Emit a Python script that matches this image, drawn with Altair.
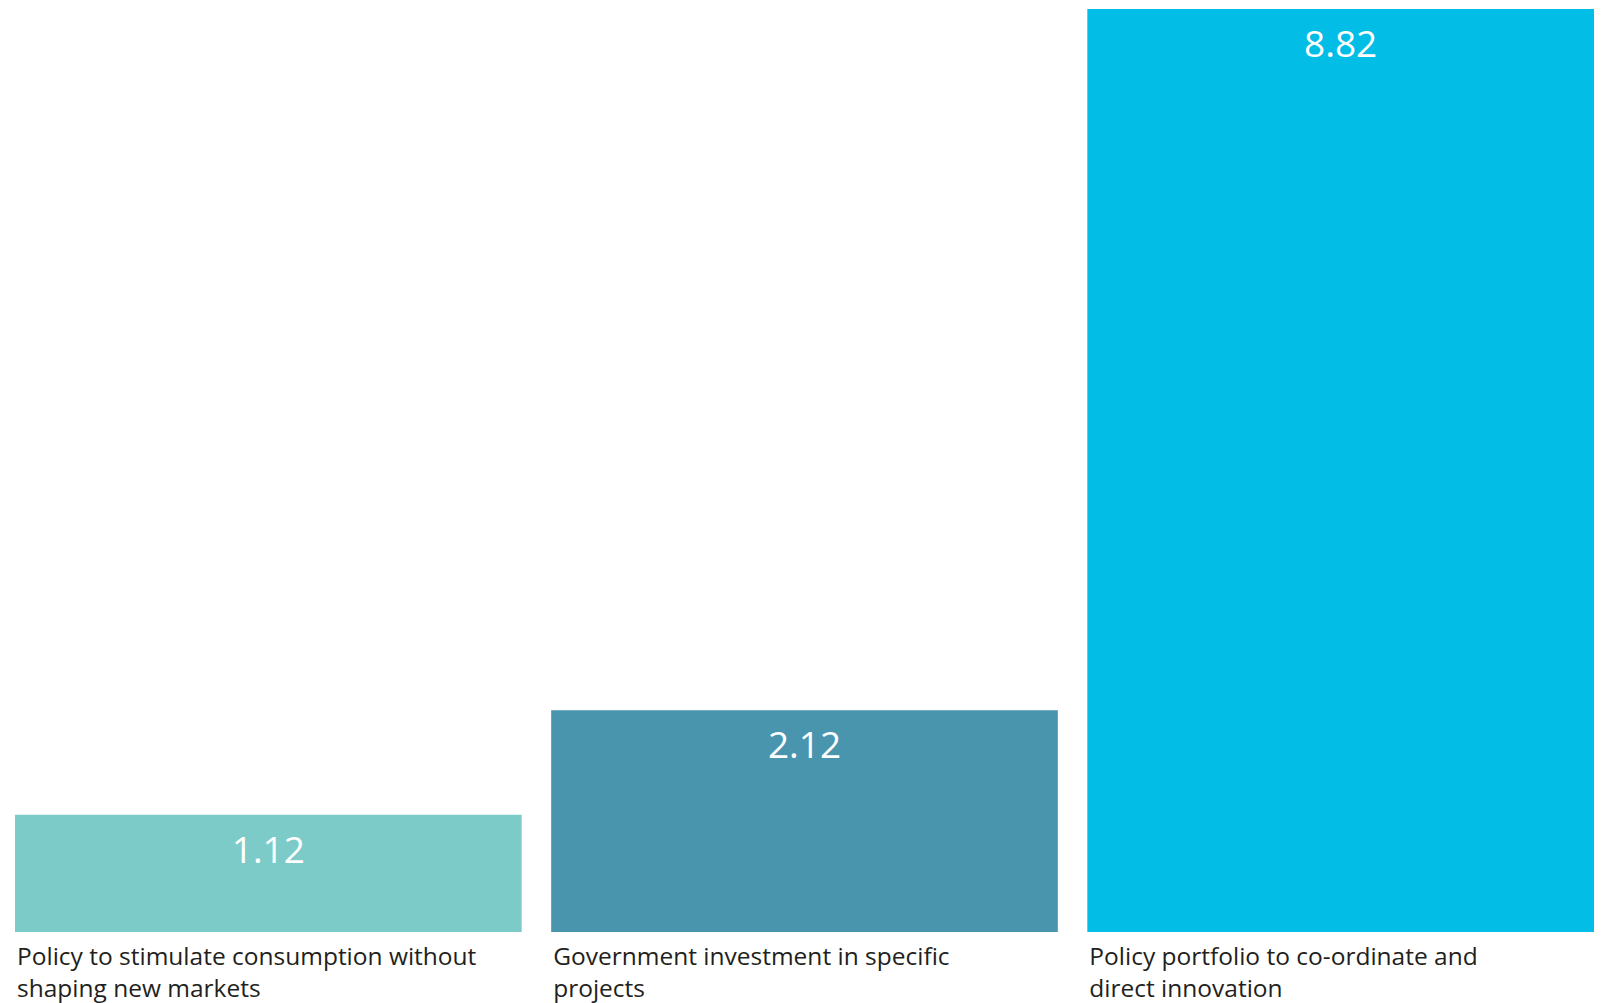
import altair as alt
import pandas as pd

categories = ["Policy to stimulate consumption without shaping new markets",
              "Government investment in specific projects",
              "Policy portfolio to co-ordinate and direct innovation"]
label_lines = [["Policy to stimulate consumption without", "shaping new markets"],
               ["Government investment in specific", "projects"],
               ["Policy portfolio to co-ordinate and", "direct innovation"]]
values = [1.12, 2.12, 8.82]
value_text = ["1.12", "2.12", "8.82"]
colors = ["#7ccbc8", "#4a95ae", "#02bde6"]

df = pd.DataFrame({"cat": categories, "value": values, "vtext": value_text,
                   "lines": label_lines})

W, H = 1579, 923
FONT = "Open Sans"

xscale = alt.Scale(domain=categories, paddingInner=0.055, paddingOuter=0)
yscale = alt.Scale(domain=[0, 8.82], nice=False, zero=True)

base = alt.Chart(df)

bars = base.mark_bar().encode(
    x=alt.X("cat:N", scale=xscale, axis=None, sort=categories),
    y=alt.Y("value:Q", scale=yscale, axis=None),
    color=alt.Color("cat:N", scale=alt.Scale(domain=categories, range=colors), legend=None),
)

vals = base.mark_text(font=FONT, fontSize=37, color="white", baseline="middle", dy=37).encode(
    x=alt.X("cat:N", scale=xscale, sort=categories),
    y=alt.Y("value:Q", scale=yscale),
    text="vtext:N",
)

labels = base.mark_text(font=FONT, fontSize=24.5, color="#231f20", align="left",
                        baseline="middle", lineHeight=32, dx=2).encode(
    x=alt.X("cat:N", scale=xscale, sort=categories, bandPosition=0),
    y=alt.value(H + 26),
    text="lines",
)

chart = alt.layer(bars, vals, labels).properties(
    width=W, height=H,
    autosize=alt.AutoSizeParams(type="none"),
    padding={"left": 7, "top": 1, "right": 0, "bottom": 90},
    background="white",
).configure_view(stroke=None)

chart.save("out.html", embed_options={"renderer": "svg", "actions": False})
